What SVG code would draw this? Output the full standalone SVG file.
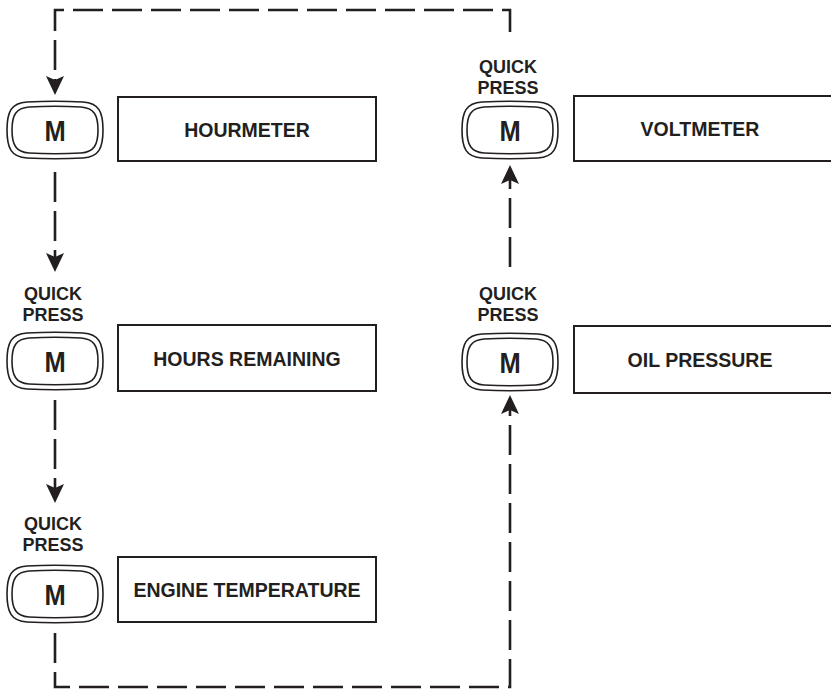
<svg xmlns="http://www.w3.org/2000/svg" width="831" height="692" viewBox="0 0 831 692">
<style>
.bg{fill:#fff}
.box{fill:#fff;stroke:#231f20;stroke-width:2}
.btn{fill:none;stroke:#231f20;stroke-width:1.6}
.lbl{font-family:"Liberation Sans",Arial,sans-serif;font-weight:bold;font-size:19.5px;fill:#231f20;text-anchor:middle}
.qp{font-family:"Liberation Sans",Arial,sans-serif;font-weight:bold;font-size:18px;fill:#231f20;text-anchor:middle}
.m{font-family:"Liberation Sans",Arial,sans-serif;font-weight:bold;font-size:30px;fill:#231f20;text-anchor:middle}
.dash{fill:none;stroke:#231f20;stroke-width:2.6;stroke-dasharray:30 9}
</style>
<defs>
<marker id="ah" viewBox="0 0 19 18" refX="4" refY="9" markerWidth="19" markerHeight="18" markerUnits="userSpaceOnUse" orient="auto">
<path d="M0,0 L19,9 L0,18 L4,9 Z" fill="#231f20"/>
</marker>
<g id="button">
<path class="btn" d="M20,0 C40,-1 56,-1 76,0 C92,1 96,10 96,28 C96,46 92,55 76,56 C56,57 40,57 20,56 C4,55 0,46 0,28 C0,10 4,1 20,0 Z"/>
<path class="btn" d="M22,5 C40,4 56,4 74,5 C87,6 91,13 91,28 C91,43 87,50 74,51 C56,52 40,52 22,51 C9,50 5,43 5,28 C5,13 9,6 22,5 Z"/>
</g>
</defs>
<rect class="bg" x="0" y="0" width="831" height="692"/>
<g id="connectors">
<path class="dash" d="M510,32 V10 H55 V80" marker-end="url(#ah)"/>
<path class="dash" d="M55,172 V257" marker-end="url(#ah)"/>
<path class="dash" d="M55,400 V488" marker-end="url(#ah)"/>
<path class="dash" d="M55,633 V687 H510 V410" marker-end="url(#ah)"/>
<path class="dash" d="M510,267 V180" marker-end="url(#ah)"/>
</g>
<g id="hourmeter">
<use href="#button" x="7" y="102"/>
<text class="m" transform="translate(55,141) scale(0.85,1)">M</text>
<rect class="box" x="118" y="97" width="258" height="64"/>
<text class="lbl" x="247" y="137">HOURMETER</text>
</g>
<g id="hours-remaining">
<text class="qp" x="53" y="300">QUICK</text>
<text class="qp" x="53" y="321">PRESS</text>
<use href="#button" x="7" y="333"/>
<text class="m" transform="translate(55,372) scale(0.85,1)">M</text>
<rect class="box" x="118" y="325" width="258" height="66"/>
<text class="lbl" x="247" y="366">HOURS REMAINING</text>
</g>
<g id="engine-temperature">
<text class="qp" x="53" y="530">QUICK</text>
<text class="qp" x="53" y="551">PRESS</text>
<use href="#button" x="7" y="566"/>
<text class="m" transform="translate(55,605) scale(0.85,1)">M</text>
<rect class="box" x="118" y="557" width="258" height="65"/>
<text class="lbl" x="247" y="597">ENGINE TEMPERATURE</text>
</g>
<g id="voltmeter">
<text class="qp" x="508" y="73">QUICK</text>
<text class="qp" x="508" y="94">PRESS</text>
<use href="#button" x="462" y="102"/>
<text class="m" transform="translate(510,141) scale(0.85,1)">M</text>
<rect class="box" x="574" y="96" width="262" height="65"/>
<text class="lbl" x="700" y="136">VOLTMETER</text>
</g>
<g id="oil-pressure">
<text class="qp" x="508" y="300">QUICK</text>
<text class="qp" x="508" y="321">PRESS</text>
<use href="#button" x="462" y="334"/>
<text class="m" transform="translate(510,373) scale(0.85,1)">M</text>
<rect class="box" x="574" y="326" width="262" height="67"/>
<text class="lbl" x="700" y="367">OIL PRESSURE</text>
</g>
</svg>
